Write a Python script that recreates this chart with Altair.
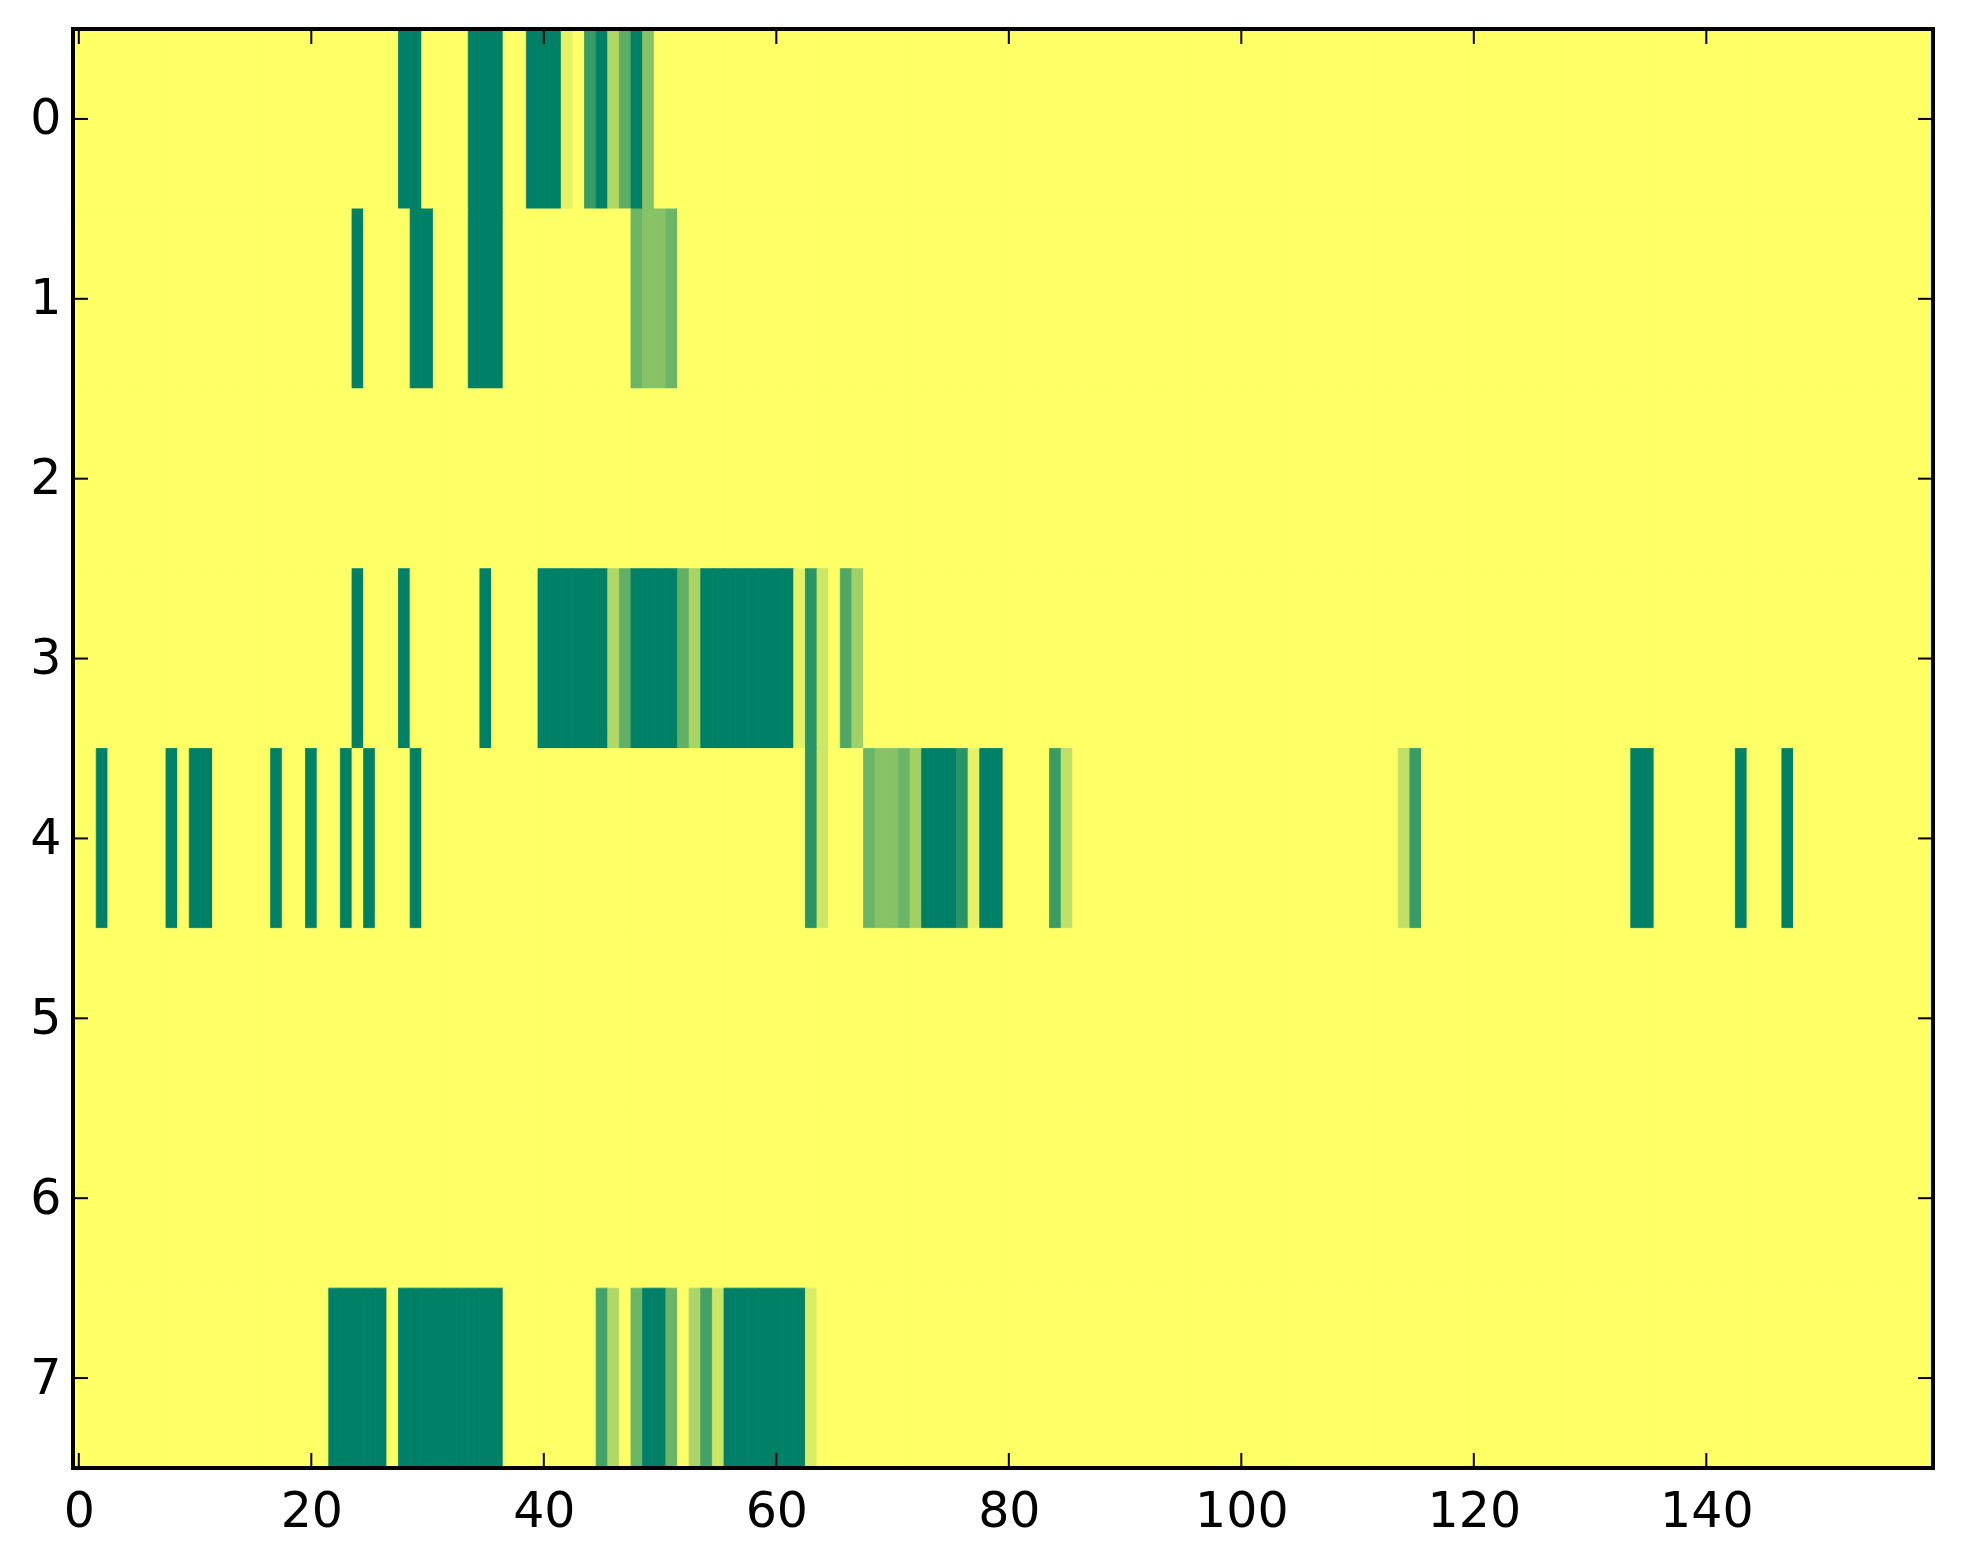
import altair as alt
import pandas as pd

N_ROWS = 8
N_COLS = 160

# Non-zero cells per row (column index, value); every other cell is 0
row0_cols = [28, 29, 34, 35, 36, 39, 40, 41, 42, 44, 45, 46, 47, 48, 49]
row0_vals = [1, 1, 1, 1, 1, 1, 1, 1, 0.1, 0.78, 1, 0.31, 0.64, 1, 0.47]

row1_cols = [24, 29, 30, 34, 35, 36, 48, 49, 50, 51]
row1_vals = [1, 1, 1, 1, 1, 1, 0.58, 0.47, 0.47, 0.58]

row3_cols = [24, 28, 35, 40, 41, 42, 43, 44, 45, 46, 47, 48, 49, 50, 51, 52, 53,
             54, 55, 56, 57, 58, 59, 60, 61, 62, 63, 64, 66, 67]
row3_vals = [1, 1, 1, 1, 1, 1, 1, 1, 1, 0.31, 0.62, 1, 1, 1, 1, 0.62, 0.34,
             1, 1, 1, 1, 1, 1, 1, 1, 0.1, 0.84, 0.2, 0.69, 0.37]

row4_cols = [2, 8, 10, 11, 17, 20, 23, 25, 29, 63, 64, 68, 69, 70, 71, 72, 73, 74,
             75, 76, 77, 78, 79, 84, 85, 114, 115, 134, 135, 143, 147]
row4_vals = [1, 1, 1, 1, 1, 1, 1, 1, 1, 0.84, 0.2, 0.58, 0.47, 0.47, 0.58, 0.37, 1, 1,
             1, 0.84, 0.1, 1, 1, 0.78, 0.25, 0.25, 0.78, 1, 1, 1, 1]

row7_cols = [22, 23, 24, 25, 26, 28, 29, 30, 31, 32, 33, 34, 35, 36, 45, 46, 48, 49,
             50, 51, 53, 54, 55, 56, 57, 58, 59, 60, 61, 62, 63]
row7_vals = [1, 1, 1, 1, 1, 1, 1, 1, 1, 1, 1, 1, 1, 1, 0.73, 0.31, 0.58, 1,
             1, 0.58, 0.33, 0.73, 0.2, 1, 1, 1, 1, 1, 1, 1, 0.15]

x_ticks = [0, 20, 40, 60, 80, 100, 120, 140]
y_ticks = [0, 1, 2, 3, 4, 5, 6, 7]

sparse = {0: (row0_cols, row0_vals), 1: (row1_cols, row1_vals),
          3: (row3_cols, row3_vals), 4: (row4_cols, row4_vals),
          7: (row7_cols, row7_vals)}

records = []
for r in range(N_ROWS):
    lookup = {}
    if r in sparse:
        lookup = dict(zip(*sparse[r]))
    for c in range(N_COLS):
        records.append({"row": r, "col": c, "v": lookup.get(c, 0.0)})
grid = pd.DataFrame(records)

W, H = 1860, 1439
FONT = "DejaVu Sans"
FS = 49

xscale = alt.Scale(domain=[-0.5, 159.5], nice=False, zero=False)
yscale = alt.Scale(domain=[-0.5, 7.5], nice=False, zero=False, reverse=True)
cscale = alt.Scale(domain=[0, 1], range=["#ffff66", "#008066"], interpolate="rgb")

xaxis = alt.Axis(values=x_ticks, tickSize=0, domain=False, grid=False,
                 labelFont=FONT, labelFontSize=FS, labelColor="black",
                 labelPadding=19, labelFlush=False, labelOverlap=False,
                 format="d", title=None)
yaxis = alt.Axis(values=y_ticks, tickSize=0, domain=False, grid=False,
                 labelFont=FONT, labelFontSize=FS, labelColor="black",
                 labelPadding=12, labelFlush=False, labelOverlap=False,
                 format="d", title=None)

heat = alt.Chart(grid).transform_calculate(
    x0="datum.col - 0.5", x1="datum.col + 0.5",
    y0="datum.row - 0.5", y1="datum.row + 0.5",
).mark_rect(strokeWidth=0.8).encode(
    x=alt.X("x0:Q", scale=xscale, axis=xaxis),
    x2="x1:Q",
    y=alt.Y("y0:Q", scale=yscale, axis=yaxis),
    y2="y1:Q",
    color=alt.Color("v:Q", scale=cscale, legend=None),
    stroke=alt.Stroke("v:Q", scale=cscale, legend=None),
)

xt = pd.DataFrame({"t": x_ticks})
yt = pd.DataFrame({"t": y_ticks})
TL = 15

xtick_bottom = alt.Chart(xt).mark_rule(color="black", strokeWidth=2).encode(
    x=alt.X("t:Q", scale=xscale, axis=xaxis), y=alt.value(H), y2=alt.value(H - TL))
xtick_top = alt.Chart(xt).mark_rule(color="black", strokeWidth=2).encode(
    x=alt.X("t:Q", scale=xscale, axis=xaxis), y=alt.value(0), y2=alt.value(TL))
ytick_left = alt.Chart(yt).mark_rule(color="black", strokeWidth=2).encode(
    y=alt.Y("t:Q", scale=yscale, axis=yaxis), x=alt.value(0), x2=alt.value(TL))
ytick_right = alt.Chart(yt).mark_rule(color="black", strokeWidth=2).encode(
    y=alt.Y("t:Q", scale=yscale, axis=yaxis), x=alt.value(W), x2=alt.value(W - TL))

frame = alt.Chart(xt).mark_rect(filled=False, stroke="black", strokeWidth=4).encode(
    x=alt.value(0), x2=alt.value(W), y=alt.value(0), y2=alt.value(H))

chart = alt.layer(
    heat, xtick_bottom, xtick_top, ytick_left, ytick_right, frame
).properties(
    width=W, height=H,
    autosize=alt.AutoSizeParams(type="none"),
    padding={"left": 65, "top": 21, "right": 20, "bottom": 80},
).configure_view(stroke=None).configure(background="white")

chart.save("out.html", embed_options={"renderer": "svg", "actions": False})
